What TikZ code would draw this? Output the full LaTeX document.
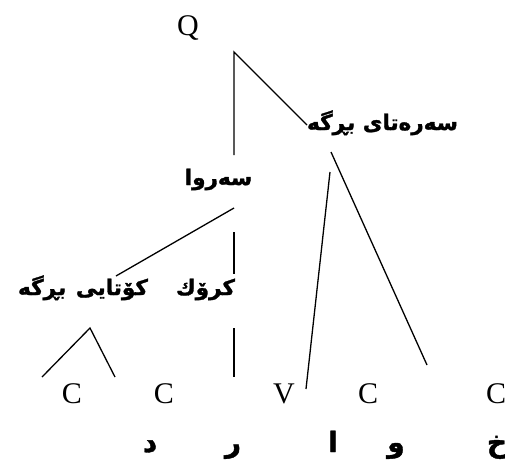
\documentclass[tikz,border=0pt]{standalone}
\usepackage{fontspec}
\setmainfont{Liberation Serif}
\newfontfamily\arabicfont[Script=Arabic,FakeBold=1.5]{DejaVu Sans Bold}
\TeXXeTstate=1
\begin{document}
\begin{tikzpicture}[x=1pt,y=-1pt,line width=1.3pt,
  lat/.style={font=\fontsize{30}{30}\selectfont, inner sep=0pt, anchor=base},
  lab/.style={font=\arabicfont\fontsize{21.5}{22}\selectfont, inner sep=0pt, anchor=base},
  seg/.style={font=\arabicfont\fontsize{28}{28}\selectfont, inner sep=0pt, anchor=base}]
\useasboundingbox (0,0) rectangle (505,463);
% Latin labels
\node[lat] (q) at (188,35) {Q};
\node[lat] (c1) at (72,403) {C};
\node[lat] (c2) at (164,403) {C};
\node[lat] (v) at (284,403) {V};
\node[lat] (c3) at (368,403) {C};
\node[lat] (c4) at (496,403) {C};
% Kurdish labels
\node[lab] (onset) at (382.5,130) {\beginR سەرەتای بڕگە\endR};
\node[lab] (rhyme) at (218.5,185) {\beginR سەروا\endR};
\node[lab] (nucleus) at (205.5,295) {\beginR كرۆك\endR};
\node[lab] (coda) at (83,295) {\beginR كۆتایی\hspace{0.45em}بڕگە\endR};
% segments
\node[seg] (d) at (150,452) {\beginR د\endR};
\node[seg] (r) at (233,452) {\beginR ر\endR};
\node[seg] (a) at (333,452) {\beginR ا\endR};
\node[seg] (w) at (396,452) {\beginR و\endR};
\node[seg] (x) at (497,452) {\beginR خ\endR};
% connector end points
\coordinate (qtop) at (234,52);
\coordinate (qrh) at (234,155);
\coordinate (qon) at (307,125);
\coordinate (onA) at (331,152);
\coordinate (onAe) at (427,365);
\coordinate (onB) at (330,172);
\coordinate (onBe) at (306,389);
\coordinate (rhA) at (234,208);
\coordinate (rhAe) at (116,276);
\coordinate (rhB) at (234,232);
\coordinate (rhBe) at (234,274);
\coordinate (coTop) at (90,328);
\coordinate (coL) at (42,377);
\coordinate (coR) at (115,377);
\coordinate (nuT) at (234,328);
\coordinate (nuB) at (234,377);
% connectors
\draw (qrh) -- (qtop) -- (qon);
\draw (onA) -- (onAe);
\draw (onB) -- (onBe);
\draw (rhA) -- (rhAe);
\draw (rhB) -- (rhBe);
\draw (coL) -- (coTop) -- (coR);
\draw (nuT) -- (nuB);
\end{tikzpicture}
\end{document}
